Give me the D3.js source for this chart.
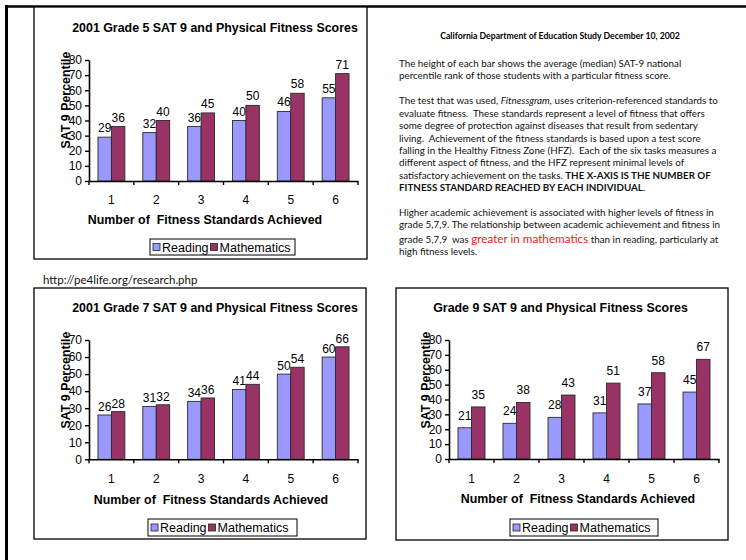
<!DOCTYPE html>
<html>
<head>
<meta charset="utf-8">
<script src="https://cdn.jsdelivr.net/npm/d3@7/dist/d3.min.js"></script>
<style>
  html, body { margin: 0; padding: 0; background: #fff; }
  svg { display: block; }
  text { white-space: pre; }
</style>
</head>
<body>
<svg id="page" width="746" height="560"></svg>
<script>
// ---- data ----
const categories = ["1", "2", "3", "4", "5", "6"];
const seriesNames = ["Reading", "Mathematics"];

const grade5Reading = [29, 32, 36, 40, 46, 55];
const grade5Math    = [36, 40, 45, 50, 58, 71];
const grade7Reading = [26, 31, 34, 41, 50, 60];
const grade7Math    = [28, 32, 36, 44, 54, 66];
const grade9Reading = [21, 24, 28, 31, 37, 45];
const grade9Math    = [35, 38, 43, 51, 58, 67];

const yTicks80 = [0, 10, 20, 30, 40, 50, 60, 70, 80];
const yTicks70 = [0, 10, 20, 30, 40, 50, 60, 70];

const chartTitles = [
  "2001 Grade 5 SAT 9 and Physical Fitness Scores",
  "2001 Grade 7 SAT 9 and Physical Fitness Scores",
  "Grade 9 SAT 9 and Physical Fitness Scores"
];
const yAxisTitle = "SAT 9 Percentile";
const xAxisTitle = "Number of  Fitness Standards Achieved";

const colors = { Reading: "#9999ff", Mathematics: "#993366" };

const svg = d3.select("#page");
const chartFont = "'Liberation Sans', Arial, sans-serif";
const docFont = "Lato, 'Open Sans', sans-serif";
const boldSize = 12.4;
const numSize = 12;
const legendSize = 12.5;

// ---- page frame ----
svg.append("line").attr("x1", 5).attr("x2", 746).attr("y1", 6.5).attr("y2", 6.5)
  .attr("stroke", "#000").attr("stroke-width", 2.6);
svg.append("line").attr("x1", 6.5).attr("x2", 6.5).attr("y1", 5).attr("y2", 560)
  .attr("stroke", "#000").attr("stroke-width", 3);

// ---- chart drawing ----
function drawChart(cfg) {
  const g = svg.append("g");
  const reading = cfg.reading, math = cfg.math;

  g.append("rect")
    .attr("x", cfg.box[0]).attr("y", cfg.box[1])
    .attr("width", cfg.box[2] - cfg.box[0]).attr("height", cfg.box[3] - cfg.box[1])
    .attr("fill", "#fff").attr("stroke", "#000").attr("stroke-width", 1.3);

  g.append("text")
    .attr("x", cfg.titleX).attr("y", cfg.titleY)
    .attr("text-anchor", "middle")
    .attr("font-family", chartFont).attr("font-weight", "bold").attr("font-size", boldSize)
    .text(cfg.title);

  const x = d3.scaleBand().domain(categories).range([cfg.plotX0, cfg.plotX1]).padding(0);
  const xs = d3.scaleBand().domain(seriesNames).range([0, x.bandwidth()])
    .paddingInner(0).paddingOuter(0.667);
  const yMax = cfg.ticks[cfg.ticks.length - 1];
  const y = d3.scaleLinear().domain([0, yMax]).range([cfg.plotY0, cfg.plotYTop]);

  const rows = categories.map((c, i) => ({
    cat: c,
    values: [
      { key: "Reading", value: reading[i] },
      { key: "Mathematics", value: math[i] }
    ]
  }));

  const groups = g.selectAll("g.cat").data(rows).join("g")
    .attr("class", "cat")
    .attr("transform", d => `translate(${x(d.cat)},0)`);

  groups.selectAll("rect").data(d => d.values).join("rect")
    .attr("x", d => xs(d.key))
    .attr("y", d => y(d.value))
    .attr("width", xs.bandwidth())
    .attr("height", d => y(0) - y(d.value))
    .attr("fill", d => colors[d.key])
    .attr("stroke", "#2a2a2a").attr("stroke-width", 0.9);

  groups.selectAll("text").data(d => d.values).join("text")
    .attr("x", d => xs(d.key) + xs.bandwidth() / 2)
    .attr("y", d => y(d.value) - cfg.labelGap)
    .attr("text-anchor", "middle")
    .attr("font-family", chartFont).attr("font-size", numSize)
    .text(d => d.value);

  // y axis
  const yAxis = d3.axisLeft(y).tickValues(cfg.ticks).tickSize(4).tickPadding(3).tickSizeOuter(0);
  const ya = g.append("g").attr("transform", `translate(${cfg.plotX0},0)`).call(yAxis);
  ya.select(".domain").attr("stroke", "#000").attr("stroke-width", 1.6);
  ya.selectAll(".tick line").attr("stroke", "#000").attr("stroke-width", 1.4);
  ya.selectAll(".tick text").attr("font-family", chartFont).attr("font-size", numSize).attr("fill", "#000");

  // x axis: labels under categories, tick marks at category boundaries
  const xa = g.append("g").attr("transform", `translate(0,${cfg.plotY0})`)
    .call(d3.axisBottom(x).tickSize(0).tickPadding(0).tickSizeOuter(0));
  xa.select(".domain").attr("stroke", "#000").attr("stroke-width", 1.6);
  xa.selectAll(".tick text")
    .attr("font-family", chartFont).attr("font-size", numSize).attr("fill", "#000")
    .attr("dy", null).attr("y", cfg.tickLabelY - cfg.plotY0);
  const bounds = categories.map(c => x(c)).concat([x(categories[categories.length - 1]) + x.bandwidth()]);
  xa.selectAll("line.bound").data(bounds).join("line")
    .attr("class", "bound")
    .attr("x1", d => d).attr("x2", d => d)
    .attr("y1", 0).attr("y2", 4)
    .attr("stroke", "#000").attr("stroke-width", 1.4);

  // axis titles
  g.append("text")
    .attr("transform", `translate(${cfg.yTitleX},${cfg.yTitleY}) rotate(-90)`)
    .attr("text-anchor", "middle")
    .attr("font-family", chartFont).attr("font-weight", "bold").attr("font-size", boldSize)
    .text(yAxisTitle);
  g.append("text")
    .attr("x", cfg.xTitleX).attr("y", cfg.xTitleY)
    .attr("text-anchor", "middle")
    .attr("font-family", chartFont).attr("font-weight", "bold").attr("font-size", boldSize)
    .text(xAxisTitle);

  // legend
  const lg = g.append("g");
  lg.append("rect")
    .attr("x", cfg.legend[0]).attr("y", cfg.legend[1])
    .attr("width", cfg.legend[2] - cfg.legend[0]).attr("height", cfg.legend[3] - cfg.legend[1])
    .attr("fill", "#fff").attr("stroke", "#000").attr("stroke-width", 1);
  const ly = (cfg.legend[1] + cfg.legend[3]) / 2;
  let lx = cfg.legend[0] + 3;
  seriesNames.forEach(name => {
    lg.append("rect")
      .attr("x", lx).attr("y", ly - 3.5).attr("width", 7).attr("height", 7)
      .attr("fill", colors[name]).attr("stroke", "#222").attr("stroke-width", 0.8);
    const t = lg.append("text")
      .attr("x", lx + 9).attr("y", ly + 4.5)
      .attr("font-family", chartFont).attr("font-size", legendSize)
      .text(name);
    lx += 9 + t.node().getComputedTextLength() + 2;
  });
}

drawChart({
  reading: grade5Reading, math: grade5Math, ticks: yTicks80, title: chartTitles[0],
  box: [34, 7, 367, 259], titleX: 215, titleY: 31.5,
  plotX0: 89, plotX1: 358, plotY0: 181, plotYTop: 60,
  labelGap: 5, tickLabelY: 203.5,
  yTitleX: 69.5, yTitleY: 100, xTitleX: 205, xTitleY: 223.5,
  legend: [150, 239, 295, 255]
});

drawChart({
  reading: grade7Reading, math: grade7Math, ticks: yTicks70, title: chartTitles[1],
  box: [34, 288, 366, 539], titleX: 215, titleY: 311.5,
  plotX0: 89, plotX1: 358, plotY0: 459.3, plotYTop: 340,
  labelGap: 4, tickLabelY: 483.5,
  yTitleX: 69.5, yTitleY: 380, xTitleX: 211, xTitleY: 504,
  legend: [148, 519, 297, 536]
});

drawChart({
  reading: grade9Reading, math: grade9Math, ticks: yTicks80, title: chartTitles[2],
  box: [396, 288, 728, 540], titleX: 560.5, titleY: 311.5,
  plotX0: 449, plotX1: 719, plotY0: 459, plotYTop: 340,
  labelGap: 8, tickLabelY: 483,
  yTitleX: 430, yTitleY: 380, xTitleX: 578, xTitleY: 503,
  legend: [510, 519, 658, 536]
});

// ---- notes beside the charts ----
svg.append("text")
  .attr("x", 560).attr("y", 38.5).attr("text-anchor", "middle")
  .attr("font-family", docFont).attr("font-weight", "bold").attr("font-size", 8.7)
  .text("California Department of Education Study December 10, 2002");

const noteLines = [
  { y: 66.5, parts: [{ t: "The height of each bar shows the average (median) SAT-9 national" }] },
  { y: 78.5, parts: [{ t: "percentile rank of those students with a particular fitness score." }] },
  { y: 104.3, parts: [{ t: "The test that was used, " }, { t: "Fitnessgram,", i: true }, { t: " uses criterion-referenced standards to" }] },
  { y: 116.7, parts: [{ t: "evaluate fitness.  These standards represent a level of fitness that offers" }] },
  { y: 129.1, parts: [{ t: "some degree of protection against diseases that result from sedentary" }] },
  { y: 141.5, parts: [{ t: "living.  Achievement of the fitness standards is based upon a test score" }] },
  { y: 153.9, parts: [{ t: "falling in the Healthy Fitness Zone (HFZ).  Each of the six tasks measures a" }] },
  { y: 166.3, parts: [{ t: "different aspect of fitness, and the HFZ represent minimal levels of" }] },
  { y: 178.7, parts: [{ t: "satisfactory achievement on the tasks. " }, { t: "THE X-AXIS IS THE NUMBER OF", b: true }] },
  { y: 191.0, parts: [{ t: "FITNESS STANDARD REACHED BY EACH INDIVIDUAL", b: true }, { t: "." }] },
  { y: 216.0, parts: [{ t: "Higher academic achievement is associated with higher levels of fitness in" }] },
  { y: 228.3, parts: [{ t: "grade 5,7,9. The relationship between academic achievement and fitness in" }] },
  { y: 242.7, parts: [{ t: "grade 5,7,9  was " }, { t: "greater in mathematics", red: true }, { t: " than in reading, particularly at" }] },
  { y: 255.0, parts: [{ t: "high fitness levels." }] }
];

const notes = svg.append("g");
noteLines.forEach(line => {
  const t = notes.append("text")
    .attr("x", 399).attr("y", line.y)
    .attr("font-family", docFont).attr("font-size", 9.8).attr("fill", "#111");
  line.parts.forEach(p => {
    const s = t.append("tspan").text(p.t);
    if (p.i) s.attr("font-style", "italic");
    if (p.b) s.attr("font-weight", "bold");
    if (p.red) s.attr("fill", "#f01a1a").attr("font-size", 11.7);
  });
});

svg.append("text")
  .attr("x", 43).attr("y", 283.5)
  .attr("font-family", docFont).attr("font-size", 11.5).attr("fill", "#111")
  .text("http://pe4life.org/research.php");
</script>
</body>
</html>
